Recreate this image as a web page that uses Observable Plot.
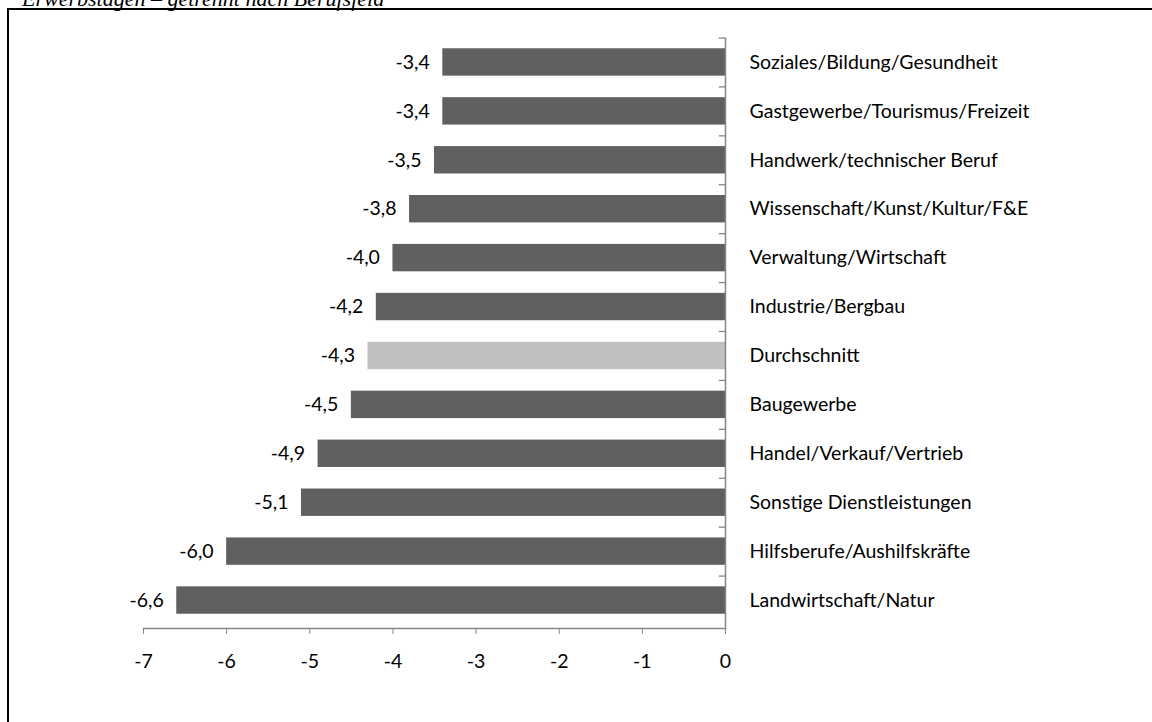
<!DOCTYPE html>
<html>
<head>
<meta charset="utf-8">
<script src="https://cdn.jsdelivr.net/npm/d3@7"></script>
<script src="https://cdn.jsdelivr.net/npm/@observablehq/plot@0.6"></script>
<style>
  html, body { margin: 0; padding: 0; background: #fff; overflow: hidden; }
  #wrap { position: relative; width: 1152px; height: 722px; }
  #title { position: absolute; left: 22px; top: -14px; font-family: "Liberation Serif", "DejaVu Serif", serif; font-style: italic; font-size: 22px; line-height: 26px; color: #000; white-space: nowrap; }
  #box { position: absolute; left: 7px; top: 8px; width: 1200px; height: 800px; border-left: 2px solid #000; border-top: 2px solid #000; }
  #chart { position: absolute; left: 0; top: 0; }
</style>
</head>
<body>
<div id="wrap">
  <div id="title">Erwerbstagen – getrennt nach Berufsfeld</div>
  <div id="box"></div>
  <div id="chart"></div>
</div>
<script>
const categories = [
  "Soziales/Bildung/Gesundheit",
  "Gastgewerbe/Tourismus/Freizeit",
  "Handwerk/technischer Beruf",
  "Wissenschaft/Kunst/Kultur/F&E",
  "Verwaltung/Wirtschaft",
  "Industrie/Bergbau",
  "Durchschnitt",
  "Baugewerbe",
  "Handel/Verkauf/Vertrieb",
  "Sonstige Dienstleistungen",
  "Hilfsberufe/Aushilfskräfte",
  "Landwirtschaft/Natur"
];
const values = [-3.4, -3.4, -3.5, -3.8, -4.0, -4.2, -4.3, -4.5, -4.9, -5.1, -6.0, -6.6];
const highlight = "Durchschnitt";
const xTicks = [-7, -6, -5, -4, -3, -2, -1, 0];

const data = categories.map((c, i) => ({category: c, value: values[i]}));
const locale = d3.formatLocale({decimal: ",", thousands: ".", grouping: [3], currency: ["", "€"], minus: "-"});
const fmt1 = locale.format(".1f");
const fmt0 = locale.format("d");

const font = "Lato, 'Open Sans', sans-serif";
const fs = 19.5;
const step = (624.5 - 37.5) / categories.length;

const chart = Plot.plot({
  width: 1152,
  height: 722,
  marginLeft: 143,
  marginRight: 427,
  marginTop: 37.5,
  marginBottom: 94,
  style: {fontFamily: font, fontSize: fs + "px", color: "#000", background: "transparent"},
  x: {domain: [-7, 0], axis: null, label: null},
  y: {domain: categories, range: [37.5, 624.5], paddingInner: 0.44, paddingOuter: 0.22, round: false, axis: null},
  marks: [
    Plot.barX(data, {y: "category", x: "value", fill: d => d.category === highlight ? "#c0c0c0" : "#606060"}),
    Plot.ruleY(categories, {y: d => d, x1: -0.075, x2: 0, dy: -step / 2, stroke: "#868686", strokeWidth: 1.3}),
    Plot.ruleX([0], {stroke: "#868686", strokeWidth: 1.5}),
    Plot.frame({anchor: "bottom", stroke: "#868686", strokeWidth: 1.5}),
    Plot.axisX({ticks: xTicks, tickSize: 6, tickPadding: 20, tickFormat: fmt0, label: null, stroke: "#868686", fill: "#000", fontSize: fs, fontFamily: font}),
    Plot.text(data, {y: "category", x: "value", text: d => fmt1(d.value), textAnchor: "end", dx: -13, fill: "#000", fontSize: fs}),
    Plot.text(data, {y: "category", x: 0, text: "category", textAnchor: "start", dx: 24, fill: "#000", fontSize: fs})
  ]
});
document.getElementById("chart").append(chart);
</script>
</body>
</html>
